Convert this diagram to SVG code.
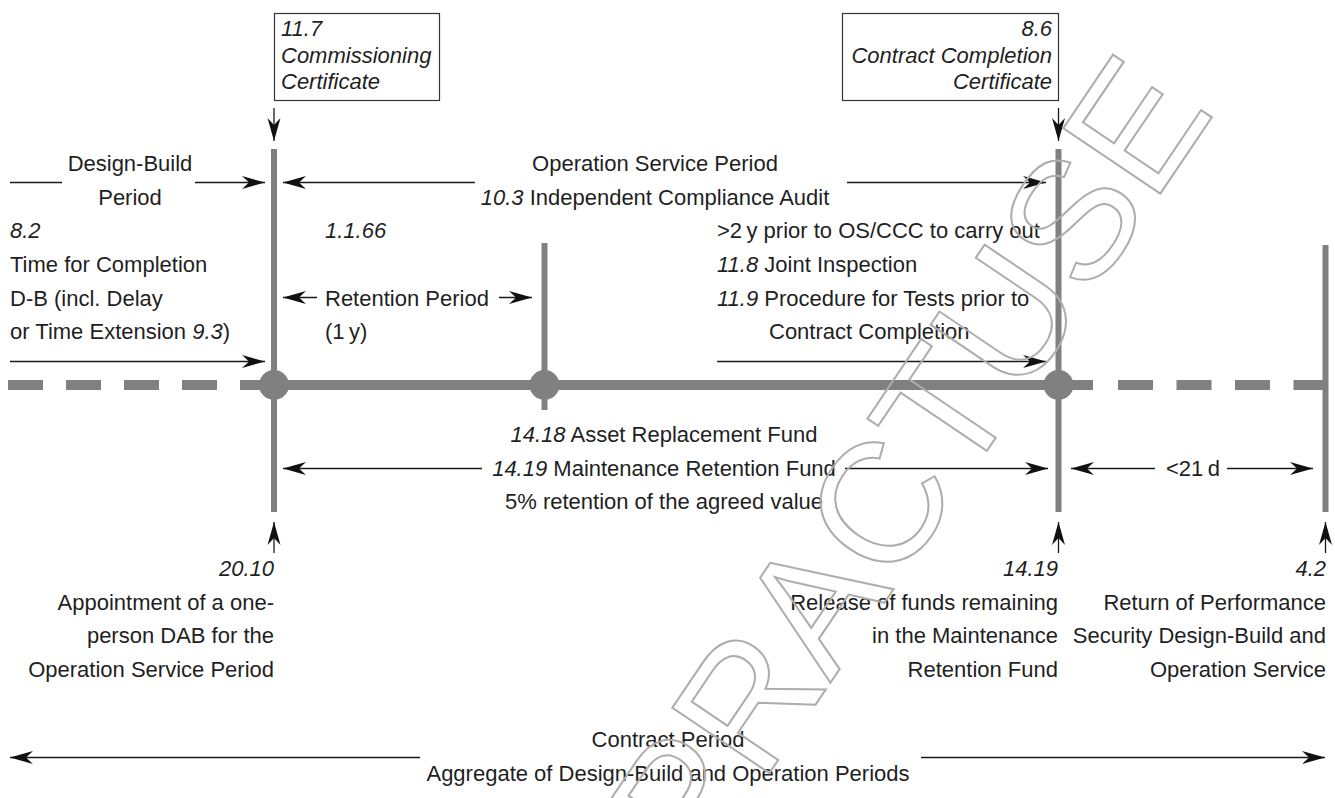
<svg xmlns="http://www.w3.org/2000/svg" width="1335" height="798" viewBox="0 0 1335 798">
  <style>
    .t { font-family: "Liberation Sans", Arial, sans-serif; font-size: 22px; fill: #1f1f1f; }
    .i { font-style: italic; }
    .r { text-anchor: end; }
    .m { text-anchor: middle; }
    .ar { stroke: #1a1a1a; stroke-width: 1.3; fill: none; }
    .arh { stroke: #1a1a1a; stroke-width: 1.3; fill: none; marker-end: url(#head); }
    .bar { stroke: #808080; fill: none; }
    .dot { fill: #808080; }
    .box { fill: #fff; stroke: #333; stroke-width: 1.2; }
    .wm { font-family: "Liberation Sans", Arial, sans-serif; font-size: 170px; fill: none; stroke: #adadad; stroke-width: 2; }
  </style>
  <defs>
    <marker id="head" viewBox="-24 -8 25 16" refX="0" refY="0" markerWidth="25" markerHeight="16" markerUnits="userSpaceOnUse" orient="auto">
      <path d="M0,0 L-23,-6.5 L-16,0 L-23,6.5 Z" fill="#111"/>
    </marker>
  </defs>
  <rect width="1335" height="798" fill="#fff"/>

  <!-- timeline -->
  <g id="timeline">
    <line class="bar" x1="8" y1="385" x2="240" y2="385" stroke-width="10" stroke-dasharray="35 23"/>
    <line class="bar" x1="240" y1="385" x2="1093" y2="385" stroke-width="10"/>
    <line class="bar" x1="1118" y1="385" x2="1328" y2="385" stroke-width="10" stroke-dasharray="35 23.5"/>
    <line class="bar" x1="274" y1="149" x2="274" y2="512" stroke-width="6"/>
    <line class="bar" x1="544.5" y1="243" x2="544.5" y2="410" stroke-width="6"/>
    <line class="bar" x1="1058.5" y1="149" x2="1058.5" y2="512" stroke-width="6"/>
    <line class="bar" x1="1325.5" y1="245" x2="1325.5" y2="512" stroke-width="6"/>
    <circle class="dot" cx="274" cy="385" r="15"/>
    <circle class="dot" cx="544.5" cy="385" r="15"/>
    <circle class="dot" cx="1058.5" cy="385" r="15"/>
  </g>

  <!-- certificate boxes -->
  <g id="box-commissioning">
    <rect class="box" x="274.5" y="13.5" width="165" height="87"/>
    <text class="t i" x="281" y="36">11.7</text>
    <text class="t i" x="281" y="63">Commissioning</text>
    <text class="t i" x="281" y="89">Certificate</text>
  </g>
  <g id="box-contract-completion">
    <rect class="box" x="842.5" y="13.5" width="216" height="87"/>
    <text class="t i r" x="1052" y="36">8.6</text>
    <text class="t i r" x="1052" y="63">Contract Completion</text>
    <text class="t i r" x="1052" y="89">Certificate</text>
  </g>

  <!-- connectors -->
  <g id="connectors">
    <line class="ar" x1="10" y1="182.5" x2="62" y2="182.5"/>
    <line class="arh" x1="195" y1="182.5" x2="265" y2="182.5"/>
    <line class="arh" x1="475" y1="182.5" x2="283" y2="182.5"/>
    <line class="arh" x1="847" y1="182.5" x2="1046" y2="182.5"/>
    <line class="arh" x1="274" y1="108" x2="274" y2="141"/>
    <line class="arh" x1="1058.5" y1="108" x2="1058.5" y2="141"/>
    <line class="arh" x1="10" y1="361.5" x2="265" y2="361.5"/>
    <line class="arh" x1="317" y1="297.5" x2="283" y2="297.5"/>
    <line class="arh" x1="499" y1="297.5" x2="532" y2="297.5"/>
    <line class="arh" x1="717" y1="361.5" x2="1046" y2="361.5"/>
    <line class="arh" x1="482" y1="468.5" x2="283" y2="468.5"/>
    <line class="arh" x1="845" y1="468.5" x2="1048" y2="468.5"/>
    <line class="arh" x1="1155" y1="468.5" x2="1071" y2="468.5"/>
    <line class="arh" x1="1227" y1="468.5" x2="1313" y2="468.5"/>
    <line class="arh" x1="274" y1="553" x2="274" y2="522"/>
    <line class="arh" x1="1058.5" y1="553" x2="1058.5" y2="522"/>
    <line class="arh" x1="1325.5" y1="553" x2="1325.5" y2="522"/>
    <line class="arh" x1="420" y1="757.5" x2="10" y2="757.5"/>
    <line class="arh" x1="921" y1="757.5" x2="1325" y2="757.5"/>
  </g>

  <!-- period labels above the timeline -->
  <g id="design-build-period">
    <text class="t m" x="130" y="171">Design-Build</text>
    <text class="t m" x="130" y="205">Period</text>
  </g>
  <g id="operation-service-period">
    <text class="t m" x="655" y="171">Operation Service Period</text>
    <text class="t m" x="655" y="205"><tspan class="i">10.3</tspan> Independent Compliance Audit</text>
  </g>
  <g id="time-for-completion">
    <text class="t i" x="10" y="238">8.2</text>
    <text class="t" x="10" y="272">Time for Completion</text>
    <text class="t" x="10" y="306">D-B (incl. Delay</text>
    <text class="t" x="10" y="339">or Time Extension <tspan class="i">9.3</tspan>)</text>
  </g>
  <g id="retention-period">
    <text class="t i" x="325" y="238">1.1.66</text>
    <text class="t" x="325" y="306">Retention Period</text>
    <text class="t" x="325" y="339">(1&#8201;y)</text>
  </g>
  <g id="joint-inspection">
    <text class="t" x="717" y="238">&gt;2&#8201;y prior to OS/CCC to carry out</text>
    <text class="t" x="717" y="272"><tspan class="i">11.8</tspan> Joint Inspection</text>
    <text class="t" x="717" y="306"><tspan class="i">11.9</tspan> Procedure for Tests prior to</text>
    <text class="t" x="769" y="339">Contract Completion</text>
  </g>

  <!-- fund labels below the timeline -->
  <g id="funds">
    <text class="t m" x="664" y="442"><tspan class="i">14.18</tspan> Asset Replacement Fund</text>
    <text class="t m" x="664" y="476"><tspan class="i">14.19</tspan> Maintenance Retention Fund</text>
    <text class="t m" x="664" y="509">5% retention of the agreed value</text>
  </g>
  <g id="less-than-21d">
    <text class="t m" x="1193" y="476">&lt;21&#8201;d</text>
  </g>

  <!-- event labels -->
  <g id="dab-appointment">
    <text class="t i r" x="274" y="576">20.10</text>
    <text class="t r" x="274" y="610">Appointment of a one-</text>
    <text class="t r" x="274" y="643">person DAB for the</text>
    <text class="t r" x="274" y="677">Operation Service Period</text>
  </g>
  <g id="fund-release">
    <text class="t i r" x="1058" y="576">14.19</text>
    <text class="t r" x="1058" y="610">Release of funds remaining</text>
    <text class="t r" x="1058" y="643">in the Maintenance</text>
    <text class="t r" x="1058" y="677">Retention Fund</text>
  </g>
  <g id="security-return">
    <text class="t i r" x="1326" y="576">4.2</text>
    <text class="t r" x="1326" y="610">Return of Performance</text>
    <text class="t r" x="1326" y="643">Security Design-Build and</text>
    <text class="t r" x="1326" y="677">Operation Service</text>
  </g>
  <g id="contract-period">
    <text class="t m" x="668" y="747">Contract Period</text>
    <text class="t m" x="668" y="781">Aggregate of Design-Build and Operation Periods</text>
  </g>

  <!-- watermark -->
  <text class="wm" transform="translate(957,495) rotate(-56)" text-anchor="middle">PRACTUSE</text>
</svg>
